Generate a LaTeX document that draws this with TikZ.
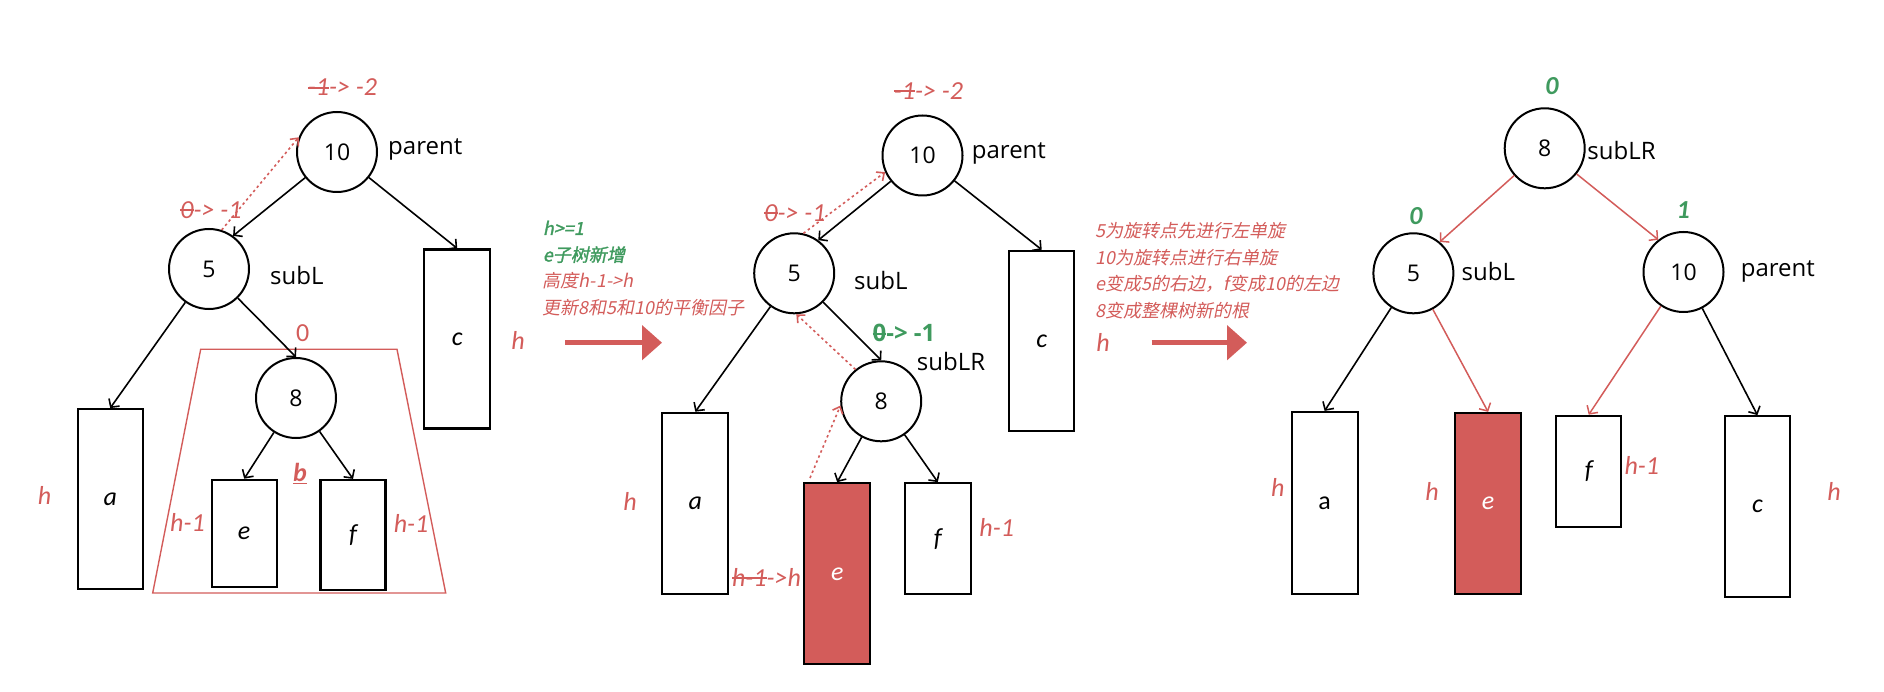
\documentclass[tikz,border=0pt]{standalone}
\usepackage{fontspec}
\usetikzlibrary{arrows.meta}
\setmainfont{Open Sans}
\newfontfamily\lab{Open Sans}
\newfontfamily\calf{Carlito}
\newfontfamily\cjk[FakeSlant=0.2]{Noto Sans CJK SC}
\newfontfamily\cjkb[FakeSlant=0.2,FakeBold=1.5]{Noto Sans CJK SC}
\definecolor{rd}{HTML}{D35C5A}
\definecolor{gr}{HTML}{3F9A5E}
\newcommand\strk[1]{\setbox0\hbox{#1}\rlap{\raise0.28em\hbox{\vrule width\wd0 height 0.08em depth 0pt}}\box0}
\begin{document}
\begin{tikzpicture}[x=1pt,y=-1pt,
  circ/.style={circle, draw, line width=2pt, minimum size=80pt, inner sep=0pt, font=\lab\fontsize{23}{23}\selectfont},
  box/.style={draw, line width=2.2pt, inner sep=0pt, fill=white, font=\calf\itshape\fontsize{26}{26}\selectfont},
  redbox/.style={box, fill=rd, text=white},
  lbl/.style={inner sep=0pt, font=\lab\fontsize{24}{24}\selectfont},
  ann/.style={inner sep=0pt, text=rd, font=\calf\itshape\fontsize{26}{26}\selectfont},
  gann/.style={inner sep=0pt, text=gr, font=\calf\bfseries\itshape\fontsize{26}{26}\selectfont},
  cj/.style={inner sep=0pt, anchor=base west, font=\cjk\fontsize{18}{26}\selectfont},
  arr/.style={draw=black, line width=1.6pt, -{Straight Barb[length=6pt,width=13pt]}},
  rarr/.style={draw=rd, line width=1.5pt, -{Straight Barb[length=6pt,width=13pt]}},
  darr/.style={draw=rd, line width=1.6pt, dash pattern=on 2.5pt off 3pt, -{Straight Barb[length=6pt,width=11pt]}},
  bigarr/.style={draw=rd, line width=5pt, -{Triangle[length=20pt,width=34pt]}}
]
\useasboundingbox (0,0) rectangle (1884,692);

% ================= first tree =================
\draw[rd, line width=1.4pt] (200.7,349.3) -- (397,349.3) -- (445.7,593) -- (152.7,593) -- cycle;
\node[circ] (L10) at (337,152) {10};
\node[circ] (L5) at (209,269) {5};
\node[circ] (L8) at (296,398) {8};
\node[box, minimum width=65pt, minimum height=180pt] (La) at (110.2,499.2) {a};
\node[box, minimum width=66pt, minimum height=179pt] (Lc) at (457.2,339) {c};
\node[box, minimum width=65pt, minimum height=107pt] (Le) at (244.2,533.3) {e};
\node[box, minimum width=65pt, minimum height=110pt] (Lf) at (353,535) {f};
\draw[arr] (L10) -- (L5.54);
\draw[arr] (L10) -- (Lc.north);
\draw[arr] (L5) -- (La.north);
\draw[arr] (L5) -- (L8.north);
\draw[arr] (L8) -- (Le.north);
\draw[arr] (L8) -- (Lf.north);
\draw[darr] (L5.72) -- (L10.159);
\node[ann, anchor=base] (t1) at (342.5,96) {\strk{-1} -> -2};
\node[ann, anchor=base] (t2) at (211,218.3) {\strk{0}-> -1};
\node[lbl, anchor=base west] (p1) at (388,155) {parent};
\node[lbl, anchor=base west] (s1) at (270,285) {subL};
\node[ann, anchor=base, font=\calf\fontsize{26}{26}\selectfont] (z1) at (302.7,341.7) {0};
\node[ann, anchor=base, font=\calf\bfseries\itshape\fontsize{26}{26}\selectfont] (b1) at (300,481.7) {\underline{b}};
\node[ann, anchor=base] (h1) at (187.5,531.7) {h-1};
\node[ann, anchor=base] (h2) at (411,532.7) {h-1};
\node[ann, anchor=base] (h3) at (44.5,504) {h};
\node[ann, anchor=base] (h4) at (518,349) {h};

% ================= middle text =================
\node[cj, text=gr] (m1) at (542.7,235) {\cjkb h>=1};
\node[cj, text=gr] (m2) at (542.7,261.5) {\cjkb e子树新增};
\node[cj, text=rd] (m3) at (542.7,288) {高度h-1->h};
\node[cj, text=rd] (m4) at (542.7,314.5) {更新8和5和10的平衡因子};
\coordinate (A1s) at (565,342.7);
\coordinate (A1e) at (662,342.7);
\draw[bigarr] (A1s) -- (A1e);

% ================= middle tree =================
\node[circ] (M10) at (922.5,155.5) {10};
\node[circ] (M5) at (794.2,273.3) {5};
\node[circ] (M8) at (881.2,401.3) {8};
\node[box, minimum width=66pt, minimum height=181pt] (Ma) at (695.3,503.3) {a};
\node[box, minimum width=65pt, minimum height=180pt] (Mc) at (1041.7,340.8) {c};
\node[redbox, minimum width=66pt, minimum height=181pt] (Me) at (837.2,573.8) {e};
\node[box, minimum width=66pt, minimum height=111pt] (Mf) at (937.8,538.7) {f};
\draw[arr] (M10) -- (M5.54);
\draw[arr] (M10) -- (Mc.north);
\draw[arr] (M5) -- (Ma.north);
\draw[arr] (M5) -- (M8.north);
\draw[arr] (M8) -- (Me.north);
\draw[arr] (M8) -- (Mf.north);
\draw[darr] (M5.77) -- (M10.204);
\draw[darr] (M8.129) -- (M5.273);
\coordinate (eS) at (810,478);
\draw[darr] (eS) -- (M8.186);
\node[ann, anchor=base] (t3) at (928.5,99.3) {\strk{-1} -> -2};
\node[ann, anchor=base] (t4) at (795,221.7) {\strk{0}-> -1};
\node[inner sep=0pt, anchor=base, text=gr, font=\lab\bfseries\fontsize{24}{24}\selectfont] (t5) at (904,341.7) {\strk{0}-> -1};
\node[lbl, anchor=base west] (p2) at (971.7,158.3) {parent};
\node[lbl, anchor=base west] (s2) at (854,289.3) {subL};
\node[lbl, anchor=base west] (s3) at (916.7,370.7) {subLR};
\node[ann, anchor=base] (h5) at (630,510) {h};
\node[ann, anchor=base] (h6) at (996.7,536.7) {h-1};
\node[ann, anchor=base] (h7) at (766.5,586.7) {\strk{h-1}->h};
\node[ann, anchor=base] (h8) at (1103,352) {h};

% ================= right text =================
\node[cj, text=rd] (r1) at (1095,237.7) {5为旋转点先进行左单旋};
\node[cj, text=rd] (r2) at (1095,264.2) {10为旋转点进行右单旋};
\node[cj, text=rd] (r3) at (1095,290.7) {e变成5的右边，f变成10的左边};
\node[cj, text=rd] (r4) at (1095,317.2) {8变成整棵树新的根};
\coordinate (A2s) at (1151.7,342.7);
\coordinate (A2e) at (1247,342.7);
\draw[bigarr] (A2s) -- (A2e);

% ================= right tree =================
\node[circ] (R8) at (1544.7,148.3) {8};
\node[circ] (R5) at (1413.4,273.3) {5};
\node[circ] (R10) at (1683.5,272) {10};
\node[box, minimum width=66pt, minimum height=182pt] (Ra) at (1324.6,503) {\upshape a};
\node[redbox, minimum width=66pt, minimum height=181pt] (Re) at (1488.1,503.5) {e};
\node[box, minimum width=65pt, minimum height=111pt] (Rf) at (1588.7,471.3) {f};
\node[box, minimum width=65pt, minimum height=181pt] (Rc) at (1757.4,506.7) {c};
\draw[rarr] (R8) -- (R5.50);
\draw[rarr] (R8) -- (R10.128);
\draw[arr] (R5) -- (Ra.north);
\draw[rarr] (R5) -- (Re.north);
\draw[rarr] (R10) -- (Rf.north);
\draw[arr] (R10) -- (Rc.north);
\node[gann, anchor=base] (g1) at (1552,95) {0};
\node[gann, anchor=base] (g2) at (1416,225) {0};
\node[gann, anchor=base] (g3) at (1683.3,218.3) {1};
\node[lbl, anchor=base west] (s4) at (1587.2,160) {subLR};
\node[lbl, anchor=base west] (s5) at (1461.5,280.7) {subL};
\node[lbl, anchor=base west] (p3) at (1740.6,276.7) {parent};
\node[ann, anchor=base] (h10) at (1277.8,496.7) {h};
\node[ann, anchor=base] (h11) at (1432,500) {h};
\node[ann, anchor=base] (h12) at (1641.8,474) {h-1};
\node[ann, anchor=base] (h13) at (1834,500) {h};
\end{tikzpicture}
\end{document}
